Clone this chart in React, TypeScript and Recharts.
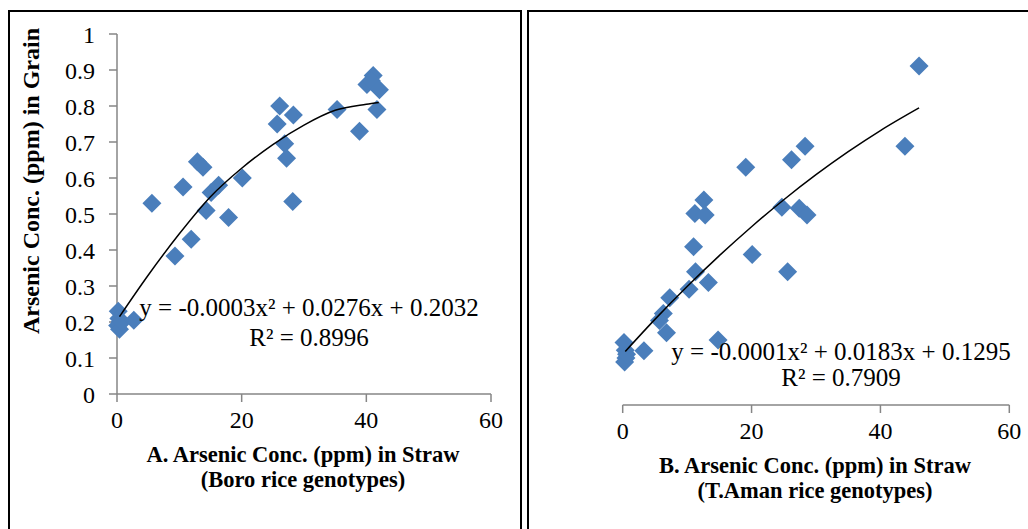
import { ScatterChart, Scatter, XAxis, YAxis } from "recharts"

// Boro rice genotypes (panel A)
const boroStraw = [0.2, 0.3, 0.5, 0.1, 0.4, 0.8, 2.7, 5.6, 9.3, 10.6, 11.9, 12.9, 13.8, 14.3, 15.1, 16.3, 17.9, 20.1, 25.7, 26.1, 26.9, 27.2, 28.3, 28.2, 35.3, 38.9, 40.1, 41.1, 40.8, 42.1, 41.7]
const boroGrain = [0.23, 0.21, 0.2, 0.19, 0.18, 0.2, 0.205, 0.53, 0.383, 0.575, 0.43, 0.645, 0.63, 0.51, 0.56, 0.58, 0.49, 0.6, 0.75, 0.8, 0.695, 0.655, 0.775, 0.535, 0.79, 0.73, 0.86, 0.885, 0.87, 0.845, 0.79]
const boroTrendX = [0.4, 5, 10, 15, 20, 25, 30, 35, 40, 42]
const boroTrendY = [0.215, 0.33, 0.445, 0.548, 0.627, 0.693, 0.747, 0.788, 0.805, 0.81]

// T.Aman rice genotypes (panel B)
const amanStraw = [46.0, 43.8, 28.3, 26.2, 19.1, 12.6, 11.2, 12.8, 24.7, 27.4, 28.6, 11.0, 20.1, 25.6, 11.3, 13.3, 10.3, 7.3, 6.3, 5.7, 6.8, 14.8, 3.3, 0.2, 0.4, 0.5, 0.3, 0.6]
const amanGrain = [0.867, 0.662, 0.662, 0.627, 0.608, 0.524, 0.49, 0.486, 0.506, 0.503, 0.486, 0.405, 0.385, 0.341, 0.341, 0.313, 0.296, 0.274, 0.234, 0.216, 0.185, 0.166, 0.139, 0.16, 0.14, 0.12, 0.11, 0.13]
const amanTrendX = [0.4, 5, 10, 15, 20, 25, 30, 35, 40, 46]
const amanTrendY = [0.137, 0.219, 0.303, 0.382, 0.456, 0.525, 0.589, 0.648, 0.702, 0.76]

const xTicks = [0, 20, 40, 60]
const yTicks = [0, 0.1, 0.2, 0.3, 0.4, 0.5, 0.6, 0.7, 0.8, 0.9, 1]

const SERIF = "'Liberation Serif', 'Times New Roman', serif"
const BLUE = "#4A7EBB"
const AXIS = "#868686"

const toPoints = (xs: number[], ys: number[]) => xs.map((x, i) => ({ x, y: ys[i] }))

function Diamond(props: any) {
    const { cx, cy } = props
    if (cx == null || cy == null) return <g />
    const r = 9.5
    return <path d={`M${cx},${cy - r}L${cx + r},${cy}L${cx},${cy + r}L${cx - r},${cy}Z`} fill={BLUE} />
}

const tickStyle = { fill: "#000", fontSize: 24, fontFamily: SERIF }

function Txt({ x, y, size, bold, children, rotate }: any) {
    return (
        <div
            style={{
                position: "absolute",
                left: x,
                top: y,
                transform: `translate(-50%, -50%)${rotate ? ` rotate(${rotate}deg)` : ""}`,
                whiteSpace: "nowrap",
                fontFamily: SERIF,
                fontSize: size,
                fontWeight: bold ? "bold" : "normal",
                lineHeight: 1,
                color: "#000",
            }}
        >
            {children}
        </div>
    )
}

export default function App() {
    const boro = toPoints(boroStraw, boroGrain)
    const boroTrend = toPoints(boroTrendX, boroTrendY)
    const aman = toPoints(amanStraw, amanGrain)
    const amanTrend = toPoints(amanTrendX, amanTrendY)

    return (
        <div style={{ position: "absolute", left: 0, top: 0, width: 1028, height: 529, background: "#fff", overflow: "hidden" }}>
            {/* panel frames */}
            <div style={{ position: "absolute", left: 8, top: 9.5, width: 510, height: 560, border: "2px solid #000" }} />
            <div style={{ position: "absolute", left: 527, top: 9.5, width: 520, height: 560, border: "2px solid #000" }} />

            <div style={{ position: "absolute", left: 0, top: 0 }}>
                <ScatterChart width={520} height={529} margin={{ top: 34, right: 29, bottom: 105, left: 0 }}>
                    <XAxis
                        type="number"
                        dataKey="x"
                        domain={[0, 60]}
                        ticks={xTicks}
                        height={30}
                        tickSize={8}
                        tickMargin={9}
                        tick={tickStyle}
                        axisLine={{ stroke: AXIS, strokeWidth: 1.5 }}
                        tickLine={{ stroke: AXIS, strokeWidth: 1.5 }}
                    />
                    <YAxis
                        type="number"
                        dataKey="y"
                        domain={[0, 1]}
                        ticks={yTicks}
                        width={117}
                        tickSize={8}
                        tickMargin={14}
                        tick={tickStyle}
                        axisLine={{ stroke: AXIS, strokeWidth: 1.5 }}
                        tickLine={{ stroke: AXIS, strokeWidth: 1.5 }}
                    />
                    <Scatter data={boro} shape={(p: any) => <Diamond {...p} />} isAnimationActive={false} />
                    <Scatter
                        data={boroTrend}
                        shape={() => <g />}
                        line={{ stroke: "#000", strokeWidth: 1.5 }}
                        lineJointType="monotoneX"
                        isAnimationActive={false}
                    />
                </ScatterChart>
            </div>

            <div style={{ position: "absolute", left: 520, top: 0 }}>
                <ScatterChart width={508} height={529} margin={{ top: 14, right: 18.7, bottom: 94, left: 102.7 }}>
                    <XAxis
                        type="number"
                        dataKey="x"
                        domain={[0, 60]}
                        ticks={xTicks}
                        height={30}
                        tickSize={8}
                        tickMargin={9}
                        tick={tickStyle}
                        axisLine={{ stroke: AXIS, strokeWidth: 1.5 }}
                        tickLine={{ stroke: AXIS, strokeWidth: 1.5 }}
                    />
                    <YAxis type="number" dataKey="y" domain={[0, 1]} hide />
                    <Scatter data={aman} shape={(p: any) => <Diamond {...p} />} isAnimationActive={false} />
                    <Scatter
                        data={amanTrend}
                        shape={() => <g />}
                        line={{ stroke: "#000", strokeWidth: 1.5 }}
                        lineJointType="monotoneX"
                        isAnimationActive={false}
                    />
                </ScatterChart>
            </div>

            {/* panel A texts */}
            <Txt x={31} y={181} size={24} bold rotate={-90}>Arsenic Conc. (ppm) in Grain</Txt>
            <Txt x={309} y={307} size={25}>y = -0.0003x² + 0.0276x + 0.2032</Txt>
            <Txt x={309} y={337} size={25}>R² = 0.8996</Txt>
            <Txt x={303} y={455} size={22.5} bold>A. Arsenic Conc. (ppm) in Straw</Txt>
            <Txt x={303} y={480} size={22.5} bold>(Boro rice genotypes)</Txt>

            {/* panel B texts */}
            <Txt x={841} y={351} size={25}>y = -0.0001x² + 0.0183x + 0.1295</Txt>
            <Txt x={841} y={377} size={25}>R² = 0.7909</Txt>
            <Txt x={815} y={466} size={22.5} bold>B. Arsenic Conc. (ppm) in Straw</Txt>
            <Txt x={815} y={491} size={22.5} bold>(T.Aman rice genotypes)</Txt>
        </div>
    )
}
